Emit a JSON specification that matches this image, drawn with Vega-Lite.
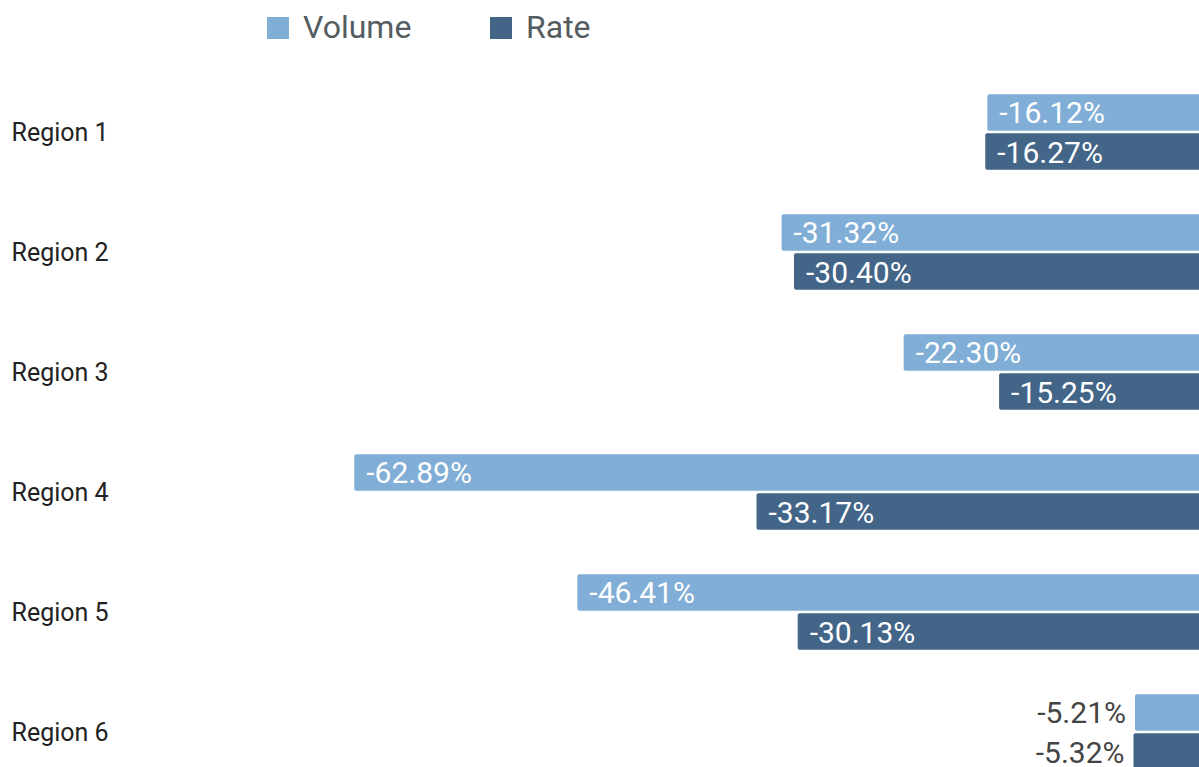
{
  "$schema": "https://vega.github.io/schema/vega-lite/v6.json",
  "autosize": {"type": "none"},
  "width": 1069,
  "height": 695,
  "padding": {"left": 130, "top": 72, "right": 0, "bottom": 0},
  "background": "white",
  "config": {"view": {"stroke": null}, "font": "Roboto"},
  "data": {
    "values": [
      {"region": "Region 1", "series": "Volume", "value": -16.12, "label": "-16.12%"},
      {"region": "Region 1", "series": "Rate", "value": -16.27, "label": "-16.27%"},
      {"region": "Region 2", "series": "Volume", "value": -31.32, "label": "-31.32%"},
      {"region": "Region 2", "series": "Rate", "value": -30.40, "label": "-30.40%"},
      {"region": "Region 3", "series": "Volume", "value": -22.30, "label": "-22.30%"},
      {"region": "Region 3", "series": "Rate", "value": -15.25, "label": "-15.25%"},
      {"region": "Region 4", "series": "Volume", "value": -62.89, "label": "-62.89%"},
      {"region": "Region 4", "series": "Rate", "value": -33.17, "label": "-33.17%"},
      {"region": "Region 5", "series": "Volume", "value": -46.41, "label": "-46.41%"},
      {"region": "Region 5", "series": "Rate", "value": -30.13, "label": "-30.13%"},
      {"region": "Region 6", "series": "Volume", "value": -5.21, "label": "-5.21%"},
      {"region": "Region 6", "series": "Rate", "value": -5.32, "label": "-5.32%"}
    ]
  },
  "encoding": {
    "y": {
      "field": "region",
      "type": "nominal",
      "sort": null,
      "scale": {"range": [0, 720], "paddingInner": 0.369, "paddingOuter": 0.1845},
      "axis": {
        "title": null,
        "ticks": false,
        "tickSize": 0,
        "domain": false,
        "grid": false,
        "labelAlign": "left",
        "labelBaseline": "middle",
        "labelPadding": 119,
        "labelOffset": 1,
        "labelFontSize": 25,
        "labelFont": "Roboto",
        "labelColor": "#222222"
      }
    },
    "yOffset": {
      "field": "series",
      "type": "nominal",
      "sort": ["Volume", "Rate"],
      "scale": {"paddingInner": 0.06, "paddingOuter": 0}
    },
    "x": {
      "field": "value",
      "type": "quantitative",
      "scale": {"domain": [-79.46, -0.48], "clamp": true, "nice": false, "zero": false},
      "axis": null
    }
  },
  "layer": [
    {
      "mark": {"type": "bar", "cornerRadiusTopLeft": 2, "cornerRadiusBottomLeft": 2},
      "encoding": {
        "x2": {"datum": 0},
        "color": {
          "field": "series",
          "type": "nominal",
          "sort": ["Volume", "Rate"],
          "scale": {"domain": ["Volume", "Rate"], "range": ["#81aed6", "#426588"]},
          "legend": {
            "title": null,
            "orient": "none",
            "legendX": 132,
            "legendY": -60,
            "direction": "horizontal",
            "columns": 2,
            "columnPadding": 73,
            "padding": 0,
            "symbolType": "square",
            "symbolSize": 484,
            "symbolStrokeWidth": 0,
            "symbolOpacity": 1,
            "labelFontSize": 32,
            "labelFont": "Roboto",
            "labelColor": "#555c60",
            "labelOffset": 9,
            "labelLimit": 300
          }
        }
      }
    },
    {
      "transform": [{"filter": "datum.value <= -10"}],
      "mark": {"type": "text", "align": "left", "dx": 12, "dy": 2, "baseline": "middle", "fontSize": 30, "font": "Roboto", "color": "#ffffff"},
      "encoding": {"text": {"field": "label", "type": "nominal"}}
    },
    {
      "transform": [{"filter": "datum.value > -10"}],
      "mark": {"type": "text", "align": "right", "dx": -9, "dy": 2, "baseline": "middle", "fontSize": 30, "font": "Roboto", "color": "#444444"},
      "encoding": {"text": {"field": "label", "type": "nominal"}}
    }
  ]
}
